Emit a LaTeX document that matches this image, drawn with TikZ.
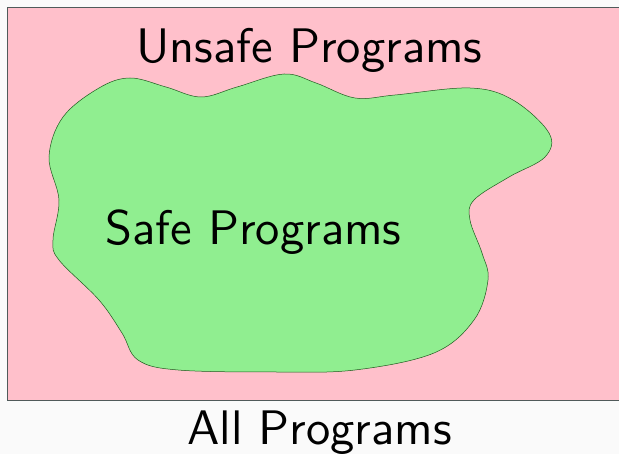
\documentclass[tikz,border=0pt]{standalone}
\usepackage{fontspec}
\usepackage{tikz}
\usetikzlibrary{positioning}
\newfontfamily\apsans{lmsans10-regular.otf}
\definecolor{apbg}{RGB}{250,250,250}
\definecolor{appink}{RGB}{255,192,203}
\definecolor{aplightgreen}{RGB}{144,238,144}
\definecolor{apframe}{RGB}{80,90,90}
\definecolor{apedge}{RGB}{30,90,30}
\tikzstyle{setlabel} = [font=\apsans\fontsize{48.5}{56}\selectfont, text=black, anchor=base, inner sep=0pt]
\tikzstyle{universe} = [fill=appink, draw=apframe, line width=0.8pt]
\tikzstyle{safeblob} = [fill=aplightgreen, draw=apedge, line width=0.5pt]

\begin{document}
\begin{tikzpicture}[x=1pt, y=-1pt]
\useasboundingbox (0,0) rectangle (619,454);
\clip (0,0) rectangle (619,454);
\fill[apbg] (0,0) rectangle (619,454);
% All programs
\draw[universe] (7,7) rectangle (640,400);
% Safe region
\draw[safeblob] plot[smooth cycle, tension=0.6] coordinates {
  (130,78) (166,87) (201,97) (237,87) (284,74) (316,83) (355,98)
  (395,95) (470,88) (513,100) (549,133) (545,157) (509,177) (474,200)
  (470,220) (482,253) (488,280) (474,320) (434,353) (355,370) (276,372)
  (178,370) (138,360) (122,333) (99,300) (59,260) (53,240) (59,200)
  (49,157) (63,117) (99,88)};
% Labels
\node (unsafe) [setlabel] at (309.5,63) {Unsafe Programs};
\node (safe) [setlabel] at (253.5,245) {Safe Programs};
\node (all) [setlabel] at (319.5,445) {All Programs};
\end{tikzpicture}
\end{document}
